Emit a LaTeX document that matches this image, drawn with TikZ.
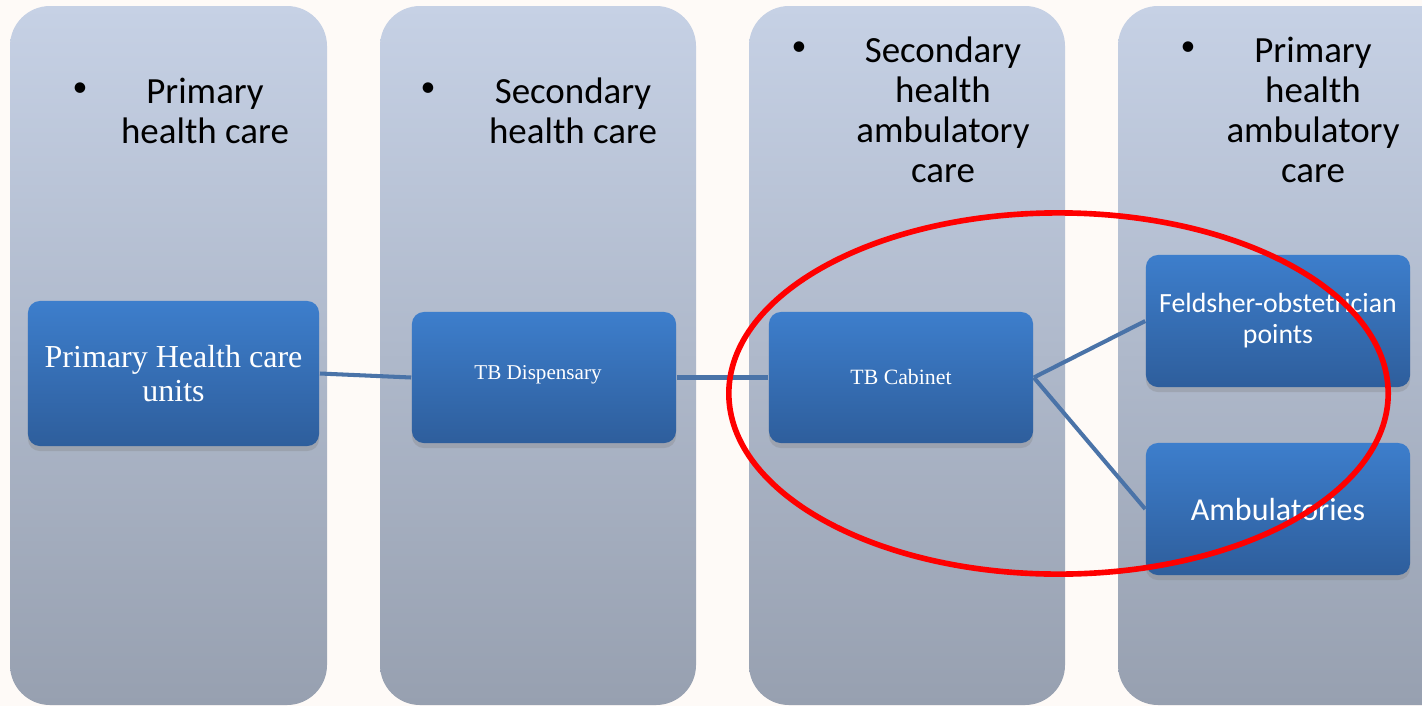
\documentclass[tikz,border=0pt]{standalone}
\usepackage{fontspec}
\setmainfont{Carlito}
\newfontfamily\romanfont{Liberation Serif}
\usetikzlibrary{shadows}

\definecolor{paper}{HTML}{FEFAF7}
\definecolor{coltop}{HTML}{C6D1E5}
\definecolor{colbot}{HTML}{97A0B0}
\definecolor{unittop}{HTML}{3D7ECC}
\definecolor{unitbot}{HTML}{2E5E9C}
\definecolor{linkblue}{HTML}{4A73A8}

\begin{document}
\begin{tikzpicture}[x=0.01cm,y=-0.01cm,
  column/.style={top color=coltop,bottom color=colbot,rounded corners=0.4cm},
  head/.style={align=center,inner sep=0pt,font=\fontsize{10.5}{11.4}\selectfont},
  dot/.style={inner sep=0pt,font=\fontsize{8.5}{9}\selectfont},
  unit/.style={rounded corners=0.12cm,top color=unittop,bottom color=unitbot,
    text=white,align=center,inner sep=0pt,minimum width=2.64cm,minimum height=1.31cm,
    drop shadow={shadow xshift=0pt,shadow yshift=-0.05cm,opacity=0.3}},
  link/.style={draw=linkblue,line width=1.15pt}]

\fill[paper] (0,0) rectangle (1422,706);
\clip (0,0) rectangle (1422,706);

\shade[column] (10,6) rectangle (327,705);
\shade[column] (380,6) rectangle (696,705);
\shade[column] (749,6) rectangle (1065,705);
\shade[column] (1118,6) rectangle (1470,705);

\node[dot] (b1) at (80,90) {\textbullet};
\node[head] (h1) at (205,111) {Primary\\health care};
\node[dot] (b2) at (428,90) {\textbullet};
\node[head] (h2) at (573,111) {Secondary\\health care};
\node[dot] (b3) at (799,49) {\textbullet};
\node[head] (h3) at (943,110) {Secondary\\health\\ambulatory\\care};
\node[dot] (b4) at (1188,49) {\textbullet};
\node[head] (h4) at (1313,110) {Primary\\health\\ambulatory\\care};

\node[unit,minimum width=2.91cm,minimum height=1.45cm,
  font=\romanfont\fontsize{9.1}{9.7}\selectfont] (phc) at (173.5,373.5) {Primary Health care\\units};
\node[unit,text depth=0.1cm,font=\romanfont\fontsize{6}{7}\selectfont] (disp) at (544,377.5) {TB Dispensary\kern0.12cm};
\node[unit,font=\romanfont\fontsize{6.2}{7}\selectfont] (cab) at (901,377.5) {TB Cabinet};
\node[unit,minimum height=1.32cm,font=\fontsize{7.9}{8.8}\selectfont] (feld) at (1278,321) {Feldsher-obstetrician\\points};
\node[unit,minimum height=1.32cm,font=\fontsize{9.1}{10}\selectfont] (amb) at (1278,509) {Ambulatories};

\draw[link] (phc.east) -- (disp.west);
\draw[link] (disp.east) -- (cab.west);
\draw[link] (cab.east) -- (feld.west);
\draw[link] (cab.east) -- (amb.west);

\draw[red,line width=1.6pt] (1058.5,393.5) ellipse [x radius=3.295cm,y radius=1.805cm];

\end{tikzpicture}
\end{document}
